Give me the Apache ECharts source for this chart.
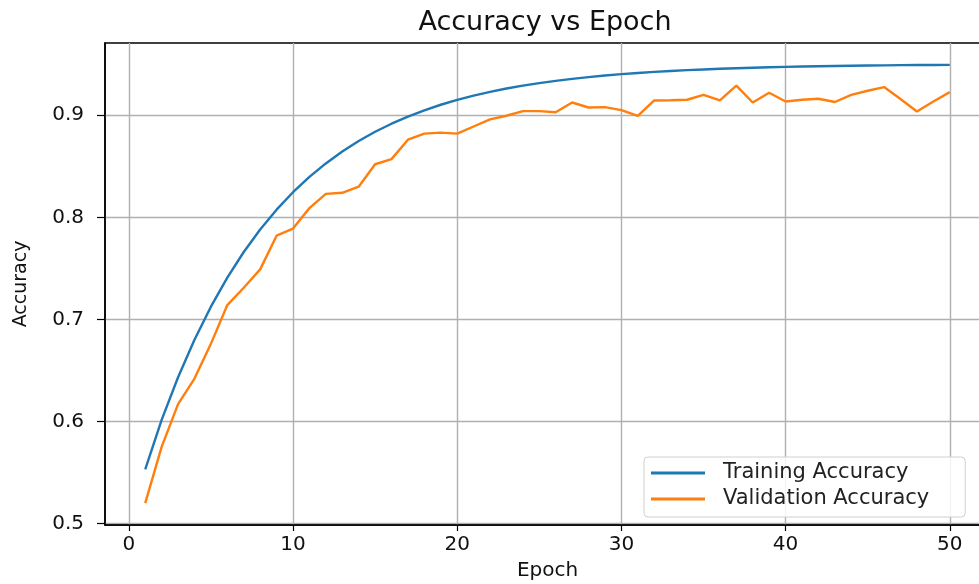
<!DOCTYPE html>
<html>
<head>
<meta charset="utf-8">
<script src="https://cdn.jsdelivr.net/npm/echarts@6/dist/echarts.min.js"></script>
<style>
html,body{margin:0;padding:0;background:#fff;}
#chart{width:979px;height:584px;}
</style>
</head>
<body>
<div id="chart"></div>
<script>
const epochs = [1,2,3,4,5,6,7,8,9,10,11,12,13,14,15,16,17,18,19,20,21,22,23,24,25,26,27,28,29,30,31,32,33,34,35,36,37,38,39,40,41,42,43,44,45,46,47,48,49,50];
const trainingAccuracy = [0.553,0.6015,0.6433,0.6801,0.7124,0.7409,0.7660,0.7880,0.8075,0.8246,0.8396,0.8528,0.8645,0.8747,0.8838,0.8917,0.8987,0.9048,0.9103,0.9150,0.9192,0.9229,0.9262,0.9290,0.9315,0.9337,0.9357,0.9374,0.9389,0.9403,0.9414,0.9425,0.9434,0.9442,0.9449,0.9455,0.9461,0.9466,0.9470,0.9474,0.9477,0.9480,0.9483,0.9485,0.9487,0.9489,0.9491,0.9492,0.9493,0.9494];
const validationAccuracy = [0.520,0.575,0.617,0.642,0.676,0.714,0.731,0.749,0.782,0.789,0.809,0.823,0.824,0.830,0.852,0.857,0.876,0.882,0.883,0.882,0.889,0.896,0.8995,0.904,0.904,0.903,0.9125,0.9076,0.908,0.905,0.8995,0.9145,0.9147,0.9152,0.920,0.9145,0.929,0.9125,0.922,0.9135,0.9152,0.9162,0.913,0.920,0.924,0.9276,0.9159,0.9037,0.9135,0.9227];
const xTicks = [0,10,20,30,40,50];
const yTicks = [0.5,0.6,0.7,0.8,0.9];

const chart = echarts.init(document.getElementById('chart'), null, {renderer:'canvas'});
const font = 'DejaVu Sans';
chart.setOption({
  animation:false,
  backgroundColor:'#ffffff',
  title:{
    text:'Accuracy vs Epoch', left:545, top:9, textAlign:'center', padding:0,
    textStyle:{fontFamily:font, fontSize:27, fontWeight:'normal', color:'#111'}
  },
  legend:{
    orient:'vertical', left:644, top:457,
    padding:[4,36,6,7], itemGap:2, itemWidth:54, itemHeight:3, icon:'rect',
    backgroundColor:'rgba(255,255,255,0.85)', borderColor:'#d0d0d0', borderWidth:1, borderRadius:4,
    textStyle:{fontFamily:font, fontSize:21, color:'#222', lineHeight:24, padding:[0,0,0,13]},
    data:['Training Accuracy','Validation Accuracy']
  },
  grid:{left:105, top:43, width:885, height:482, show:true, borderColor:'#000', borderWidth:1.5,
        containLabel:false, outerBoundsMode:'none'},
  xAxis:{
    type:'value', min:-1.45, max:52.45,
    name:'Epoch', nameLocation:'middle', nameGap:36,
    nameTextStyle:{fontFamily:font, fontSize:20, color:'#111'},
    axisLine:{show:true, onZero:false, lineStyle:{color:'#000', width:1.5}},
    axisTick:{show:true, length:6, lineStyle:{color:'#000', width:1.2}, customValues:xTicks},
    axisLabel:{fontFamily:font, fontSize:20, color:'#111', margin:10, customValues:xTicks},
    splitLine:{show:true, lineStyle:{color:'#b0b0b0', width:1.4}}
  },
  yAxis:{
    type:'value', min:0.4985, max:0.9708,
    name:'Accuracy', nameLocation:'middle', nameGap:74,
    nameTextStyle:{fontFamily:font, fontSize:19, color:'#111'},
    axisLine:{show:true, onZero:false, lineStyle:{color:'#000', width:1.5}},
    axisTick:{show:true, length:8, lineStyle:{color:'#000', width:1.2}, customValues:yTicks},
    axisLabel:{fontFamily:font, fontSize:20, color:'#111', margin:21, customValues:yTicks,
      formatter:function(v){return v.toFixed(1);}},
    splitLine:{show:true, lineStyle:{color:'#b0b0b0', width:1.4}}
  },
  series:[
    {name:'Training Accuracy', type:'line', symbol:'none', showSymbol:false,
     color:'#1f77b4', lineStyle:{color:'#1f77b4', width:2.4},
     data:epochs.map((e,i)=>[e,trainingAccuracy[i]])},
    {name:'Validation Accuracy', type:'line', symbol:'none', showSymbol:false,
     color:'#ff7f0e', lineStyle:{color:'#ff7f0e', width:2.4},
     data:epochs.map((e,i)=>[e,validationAccuracy[i]])}
  ]
});
</script>
</body>
</html>
